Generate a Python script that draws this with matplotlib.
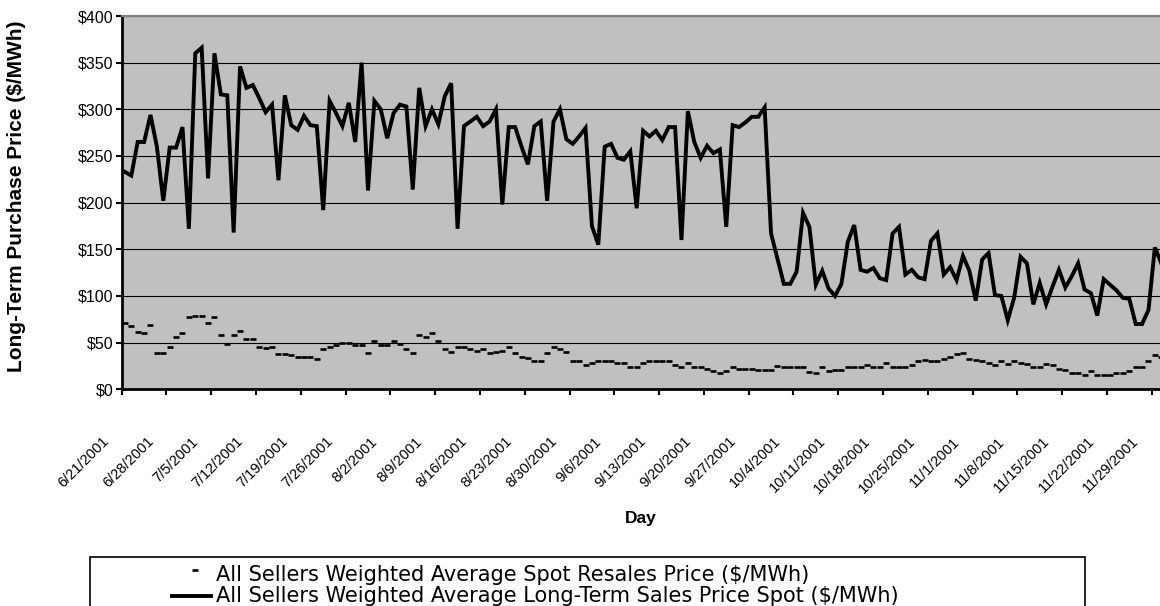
import matplotlib
matplotlib.use("Agg")
import matplotlib.pyplot as plt
import matplotlib.transforms as mtransforms
from matplotlib.patches import Rectangle
from matplotlib.lines import Line2D
import numpy as np
import pandas as pd

plt.rcParams['font.family'] = ['Liberation Sans', 'DejaVu Sans']

# daily prices starting 6/21/2001 ($/MWh)
start_date = "2001-06-21"

long_term_price = [
    233, 229, 265, 265, 294, 260, 202, 259, 259, 281,
    172, 360, 366, 226, 360, 316, 315, 168, 346, 323,
    326, 312, 297, 305, 224, 315, 283, 278, 293, 283,
    282, 192, 309, 296, 282, 307, 265, 350, 213, 309,
    300, 269, 296, 305, 303, 214, 323, 282, 300, 284,
    314, 328, 172, 282, 287, 292, 282, 287, 300, 198,
    281, 281, 260, 241, 282, 287, 202, 287, 300, 268,
    263, 271, 280, 175, 155, 260, 263, 248, 246, 255,
    194, 277, 271, 277, 267, 281, 281, 160, 298, 265,
    248, 261, 253, 257, 174, 283, 281, 286, 292, 292,
    302, 167, 140, 113, 113, 126, 189, 174, 112, 127,
    108, 100, 113, 158, 176, 128, 126, 130, 119, 117,
    167, 174, 123, 128, 120, 118, 159, 167, 123, 131,
    117, 143, 127, 95, 139, 146, 101, 100, 74, 98,
    142, 135, 91, 114, 91, 110, 128, 109, 121, 135,
    107, 103, 79, 118, 112, 106, 98, 97, 70, 70,
    85, 152, 135,
]

spot_resale_price = [
    71, 68, 61, 60, 69, 39, 39, 45, 56, 60,
    77, 79, 79, 71, 77, 58, 49, 58, 62, 54,
    54, 45, 44, 45, 38, 38, 37, 35, 35, 35,
    32, 43, 45, 48, 50, 50, 48, 48, 39, 52,
    48, 48, 52, 49, 43, 39, 58, 56, 60, 52,
    43, 40, 45, 45, 43, 41, 43, 39, 40, 41,
    45, 39, 35, 34, 30, 30, 39, 45, 43, 40,
    30, 30, 26, 28, 30, 30, 30, 28, 28, 24,
    24, 28, 30, 30, 30, 30, 26, 24, 28, 24,
    24, 22, 20, 18, 20, 24, 22, 22, 22, 21,
    21, 21, 25, 24, 24, 24, 24, 19, 18, 24,
    20, 21, 21, 24, 24, 24, 26, 24, 24, 28,
    24, 24, 24, 26, 30, 31, 30, 30, 32, 35,
    38, 39, 33, 31, 30, 28, 26, 30, 27, 30,
    28, 27, 24, 24, 27, 26, 22, 21, 18, 18,
    15, 20, 15, 15, 15, 18, 18, 20, 24, 24,
    30, 37, 35,
]

series_names = [
    "All Sellers Weighted Average Spot Resales Price ($/MWh)",
    "All Sellers Weighted Average Long-Term Sales Price Spot ($/MWh)",
]

y_ticks = list(range(0, 401, 50))
y_tick_labels = [f"${v}" for v in y_ticks]

days = pd.date_range(start_date, periods=len(long_term_price), freq="D")
x = np.arange(len(days))
# weekly ticks sit on the day boundaries
tick_pos = x[::7] - 0.5
tick_labels = [f"{d.month}/{d.day}/{d.year}" for d in days[::7]]

W, H, DPI = 1160, 606, 100
fig = plt.figure(figsize=(W / DPI, H / DPI), dpi=DPI)
ax = fig.add_axes([121.7 / W, 1 - 389.3 / H, (W - 121.7) / W, (389.3 - 16) / H])
ax.set_facecolor("#c0c0c0")

ax.plot(x, spot_resale_price, linestyle="none", marker="_", markersize=4.8,
        markeredgewidth=1.9, color="black", zorder=3)
ax.plot(x, long_term_price, color="black", linewidth=2.8,
        solid_joinstyle="miter", zorder=4)

ax.set_xlim(-0.5, 161.8)
ax.set_ylim(0, 400)

# horizontal grid
ax.set_yticks(y_ticks)
ax.set_yticklabels(y_tick_labels, fontsize=11.5)
ax.yaxis.grid(True, color="black", linewidth=0.8)
ax.set_axisbelow(True)

# date labels hang below the axis, slanted, ending left of their tick
ax.set_xticks(tick_pos)
ax.set_xticklabels([])
shift = mtransforms.ScaledTranslation(-15 / DPI, -50 / DPI, fig.dpi_scale_trans)
label_trans = ax.get_xaxis_transform() + shift
for pos, lbl in zip(tick_pos, tick_labels):
    ax.text(pos, 0, lbl, transform=label_trans, rotation=45, ha="right",
            va="center", rotation_mode="anchor", fontsize=10.5, clip_on=False)

ax.tick_params(axis="x", direction="out", length=4.5, width=1.5, pad=0)
ax.tick_params(axis="y", direction="out", length=4.5, width=1.5, pad=1.5)

for side in ("left", "bottom"):
    ax.spines[side].set_linewidth(2)
    ax.spines[side].set_color("black")
ax.spines["top"].set_color("#808080")
ax.spines["top"].set_linewidth(1.6)
ax.spines["right"].set_visible(False)

# axis titles
fig.text(17 / W, 1 - 372 / H, "Long-Term Purchase Price ($/MWh)", rotation=90,
         ha="center", va="bottom", fontsize=15, fontweight="bold")
fig.text(641 / W, 1 - 518 / H, "Day", ha="center", va="center",
         fontsize=12.5, fontweight="bold")

# legend box below the chart
px = lambda xx, yy: (xx / W, 1 - yy / H)
box_x, box_y = px(90, 640)
fig.patches.append(Rectangle((box_x, box_y), (1085 - 90) / W, (640 - 557) / H,
                             transform=fig.transFigure, facecolor="white",
                             edgecolor="black", linewidth=1.2))
mx, my = px(195, 570)
fig.lines.append(Line2D([mx], [my], marker="_", markersize=4.8, markeredgewidth=1.9,
                        color="black", transform=fig.transFigure))
lx0, ly = px(172, 596)
lx1, _ = px(211, 596)
fig.lines.append(Line2D([lx0, lx1], [ly, ly], color="black", linewidth=2.8,
                        transform=fig.transFigure))
for name, yy in zip(series_names, (575, 596)):
    tx, ty = px(216, yy)
    fig.text(tx, ty, name, ha="left", va="center", fontsize=15,
             family=["DejaVu Sans"])

fig.savefig("out.png", dpi=DPI)
